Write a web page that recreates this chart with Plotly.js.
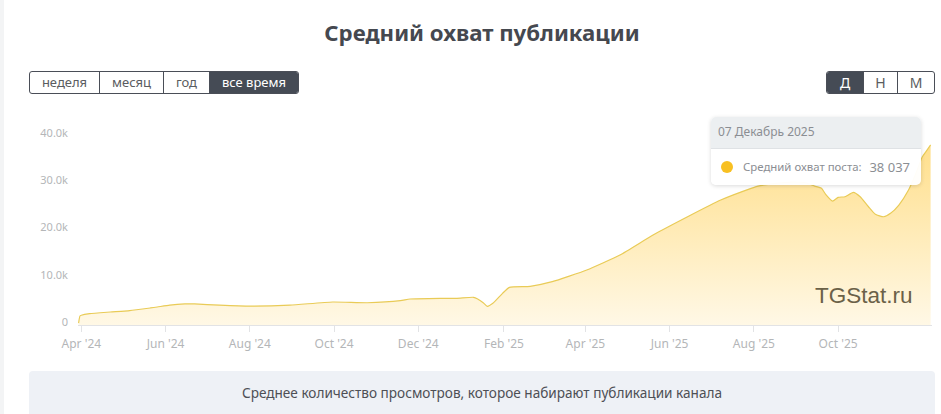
<!DOCTYPE html>
<html>
<head>
    <meta charset="UTF-8">
    <title>Средний охват публикации</title>
    <script src="https://cdn.plot.ly/plotly-3.0.1.min.js"></script>
    <style>
    html, body {
      margin: 0;
      padding: 0;
      width: 941px;
      height: 414px;
      overflow: hidden;
      background: #fff;
      font-family: 'Noto Sans', sans-serif;
    }
    .stripe {
      position: absolute;
      left: 0; top: 0;
      width: 4px; height: 414px;
      background: #f3f4f5;
    }
    #chart {
      position: absolute;
      left: 0; top: 0;
      width: 941px; height: 414px;
    }
    .btn-group {
      position: absolute;
      top: 71px;
      height: 23px;
      display: flex;
      box-sizing: border-box;
      border: 1px solid #4a4e57;
      border-radius: 3px;
      overflow: hidden;
      font-size: 13px;
      line-height: 21px;
      color: #5a5c60;
      background: #fff;
    }
    .btn-group span {
      display: block;
      box-sizing: border-box;
      text-align: center;
      border-left: 1px solid #4a4e57;
    }
    .btn-group span:first-child { border-left: none; }
    .btn-group span.on { background: #454b55; color: #fff; }
    .tooltip {
      position: absolute;
      left: 711px; top: 117px;
      width: 210px; height: 68px;
      background: rgba(255,255,255,0.96);
      border-radius: 5px;
      box-shadow: 0 1px 4px rgba(0,0,0,0.15);
      overflow: hidden;
      color: #8b8e93;
      font-size: 11.4px;
    }
    .tooltip .head {
      height: 31px;
      line-height: 30px;
      padding-left: 7px;
      background: #eceff1;
      border-bottom: 1px solid #dfe2e5;
      font-size: 12px;
    }
    .tooltip .dot {
      position: absolute;
      left: 10px; top: 44px;
      width: 12px; height: 12px;
      border-radius: 50%;
      background: #f8c022;
    }
    .tooltip .label { position: absolute; left: 32px; top: 42px; white-space: nowrap; }
    .tooltip .val { position: absolute; right: 11px; top: 41px; font-size: 13px; white-space: nowrap; }
    .note {
      position: absolute;
      left: 29px; top: 371px;
      width: 906px; height: 50px;
      background: #eef1f6;
      border-radius: 4px;
      text-align: center;
      font-size: 13.6px;
      line-height: 44px;
      color: #4d4f55;
    }
    </style>
</head>
<body>
    <div class="stripe"></div>
    <div id="chart"></div>

    <div class="btn-group" style="left:29px;width:270px">
        <span style="width:69px">неделя</span>
        <span style="width:64px">месяц</span>
        <span style="width:46px">год</span>
        <span class="on" style="width:89px">все время</span>
    </div>
    <div class="btn-group" style="left:826px;width:109px;font-size:14px">
        <span class="on" style="width:36px">Д</span>
        <span style="width:34px">Н</span>
        <span style="width:37px">М</span>
    </div>

    <div class="tooltip">
        <div class="head">07 Декабрь 2025</div>
        <div class="dot"></div>
        <div class="label">Средний охват поста:</div>
        <div class="val" id="tipval"></div>
    </div>

    <div class="note">Среднее количество просмотров, которое набирают публикации канала</div>

    <script>
        const dates = [
            '2024-03-30', '2024-03-31', '2024-04-01', '2024-04-07', '2024-04-22', '2024-05-06',
            '2024-05-21', '2024-05-26', '2024-06-04', '2024-06-15', '2024-06-22', '2024-07-10',
            '2024-08-01', '2024-08-30', '2024-09-30', '2024-10-25', '2024-11-18', '2024-11-25',
            '2024-12-17', '2024-12-29', '2025-01-10', '2025-01-13', '2025-01-17', '2025-01-20',
            '2025-01-24', '2025-01-31', '2025-02-05', '2025-02-20', '2025-03-08',
            '2025-04-02', '2025-04-26', '2025-05-20', '2025-06-14', '2025-07-08',
            '2025-07-30', '2025-08-04', '2025-08-14', '2025-08-28', '2025-09-08', '2025-09-14',
            '2025-09-19', '2025-09-22', '2025-09-27', '2025-10-01', '2025-10-06', '2025-10-12',
            '2025-10-17', '2025-10-23', '2025-10-28', '2025-11-03', '2025-11-08', '2025-11-14',
            '2025-11-21', '2025-11-26', '2025-12-01', '2025-12-04', '2025-12-07'
        ];
        const reach = [
            400, 1900, 2050, 2400, 2750, 3050,
            3600, 3800, 4200, 4450, 4450, 4200,
            4000, 4200, 4860, 4700, 5130, 5490,
            5640, 5640, 5850, 5490, 4700, 3950,
            4580, 6690, 7960, 8170, 9150,
            11620, 14780, 19000, 22870, 26400,
            28870, 29350, 29800, 30200, 30000, 29350,
            28870, 27600, 26190, 26970, 27100, 28020,
            27100, 24980, 23380, 22870, 23590, 25340,
            28510, 31800, 35540, 36800, 38037
        ];
        const yTicks = [0, 10000, 20000, 30000, 40000];
        const yLabels = ['0', '10.0k', '20.0k', '30.0k', '40.0k'];
        const xTicks = ['2024-04-01', '2024-06-01', '2024-08-01', '2024-10-01', '2024-12-01',
                        '2025-02-01', '2025-04-01', '2025-06-01', '2025-08-01', '2025-10-01'];
        const xLabels = ["Apr '24", "Jun '24", "Aug '24", "Oct '24", "Dec '24",
                         "Feb '25", "Apr '25", "Jun '25", "Aug '25", "Oct '25"];

        // tooltip shows the last point
        document.getElementById('tipval').textContent =
            String(reach[reach.length - 1]).replace(/\B(?=(\d{3})+$)/g, ' ');

        var trace = {
            x: dates,
            y: reach,
            type: 'scatter',
            mode: 'lines',
            line: { color: '#e9cb57', width: 1.2, shape: 'spline', smoothing: 0.5 },
            fill: 'tozeroy',
            fillgradient: {
                type: 'vertical',
                start: 0,
                stop: 38037,
                colorscale: [[0, '#fff8e6'], [1, '#ffdf8c']]
            },
            hoverinfo: 'skip'
        };

        var axisFont = { family: 'Noto Sans, sans-serif', size: 12, color: '#b4b6b8' };

        var layout = {
            width: 941,
            height: 414,
            paper_bgcolor: 'rgba(0,0,0,0)',
            plot_bgcolor: 'rgba(0,0,0,0)',
            showlegend: false,
            margin: { l: 78, r: 9, t: 112, b: 89 },
            title: {
                text: '<b>Средний охват публикации</b>',
                x: 0.5122, xref: 'container', xanchor: 'center',
                y: 0.92, yref: 'container', yanchor: 'middle',
                font: { family: 'Noto Sans, sans-serif', size: 22.2, color: '#45484f' }
            },
            xaxis: {
                type: 'date',
                range: ['2024-03-29 14:00', '2025-12-08'],
                tickmode: 'array',
                tickvals: xTicks,
                ticktext: xLabels,
                ticks: 'outside',
                ticklen: 6,
                tickcolor: '#e2e3e5',
                tickfont: axisFont,
                ticklabelstandoff: 2,
                showgrid: false,
                zeroline: false,
                showline: true,
                linecolor: '#e2e3e5',
                linewidth: 1,
                fixedrange: true
            },
            yaxis: {
                range: [0, 45000],
                tickmode: 'array',
                tickvals: yTicks,
                ticktext: yLabels,
                tickfont: { family: 'Noto Sans, sans-serif', size: 11, color: '#b4b6b8' },
                ticklabelshift: -3,
                ticklabelstandoff: 9,
                showgrid: false,
                zeroline: false,
                showline: false,
                fixedrange: true
            },
            annotations: [{
                text: 'TGStat.ru',
                xref: 'paper', yref: 'paper',
                x: 0.980, y: 0.138,
                xanchor: 'right', yanchor: 'middle',
                showarrow: false,
                font: { family: 'Liberation Sans, sans-serif', size: 22.5, color: '#6b6148' }
            }]
        };

        Plotly.newPlot('chart', [trace], layout, { displayModeBar: false, staticPlot: true });
    </script>
</body>
</html>
